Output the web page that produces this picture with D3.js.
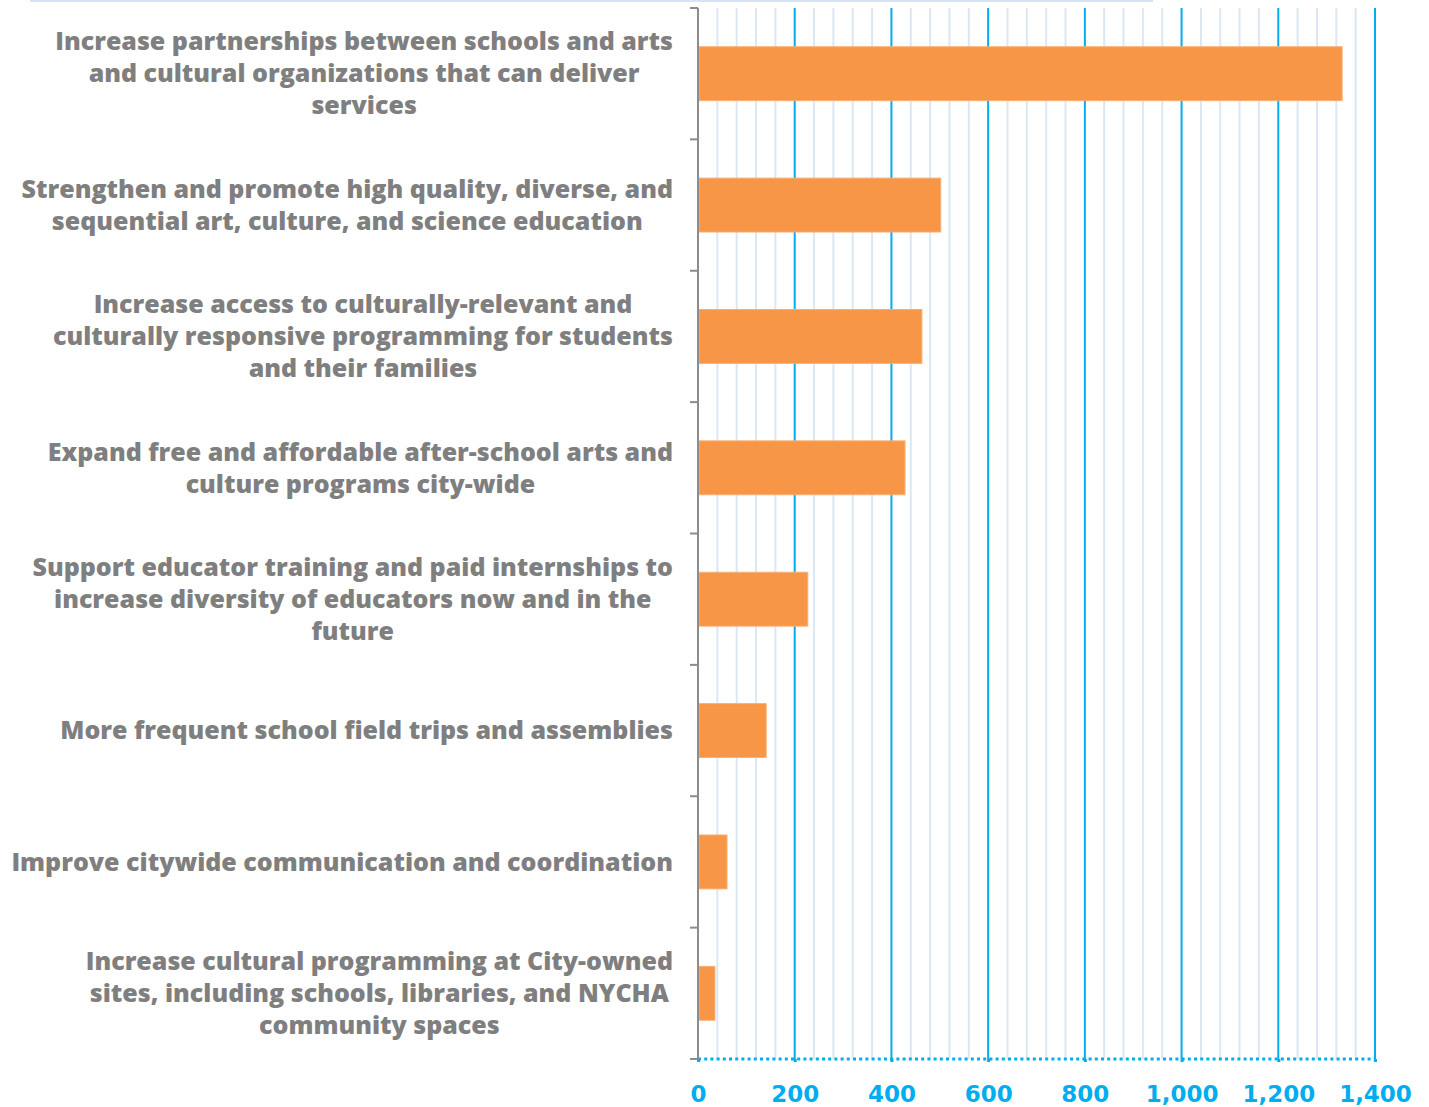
<!DOCTYPE html>
<html>
<head>
<meta charset="utf-8">
<script src="https://cdn.jsdelivr.net/npm/d3@7"></script>
<style>
  html, body { margin: 0; padding: 0; background: #fff; }
  svg { display: block; }
</style>
</head>
<body>
<div id="chart"></div>
<script>
// categories (line breaks as in the original), top to bottom
const categories = [
  ["Increase partnerships between schools and arts", "and cultural organizations that can deliver", "services"],
  ["Strengthen and promote high quality, diverse, and", "sequential art, culture, and science education"],
  ["Increase access to culturally-relevant and", "culturally responsive programming for students", "and their families"],
  ["Expand free and affordable after-school arts and", "culture programs city-wide"],
  ["Support educator training and paid internships to", "increase diversity of educators now and in the", "future"],
  ["More frequent school field trips and assemblies"],
  ["Improve citywide communication and coordination"],
  ["Increase cultural programming at City-owned", "sites, including schools, libraries, and NYCHA", "community spaces"]
];
const values = [1332, 502, 463, 428, 227, 141, 60, 35];
const xTicks = [0, 200, 400, 600, 800, 1000, 1200, 1400];
const xMinorTicks = d3.range(0, 1401, 40);

const W = 1429, H = 1107;
const margin = { top: 8, right: 54, bottom: 48, left: 698 };
const plotW = W - margin.left - margin.right,
  plotH = H - margin.top - margin.bottom;

const svg = d3.select("#chart")
  .append("svg")
  .attr("width", W)
  .attr("height", H);

// faint rule along the top edge
svg.append("line")
  .attr("x1", 30).attr("x2", 1153)
  .attr("y1", 1).attr("y2", 1)
  .style("stroke", "#d6e4f5")
  .style("stroke-width", 2);

const g = svg.append("g")
  .attr("transform", "translate(" + margin.left + "," + margin.top + ")");

const ids = categories.map((d, i) => i);

const x = d3.scaleLinear().domain([0, 1400]).range([0, plotW]);
const y = d3.scaleBand().domain(ids).range([0, plotH])
  .paddingInner(0.59).paddingOuter(0.295);
const yBand = d3.scaleBand().domain(ids).range([0, plotH]);

// minor grid
g.append("g")
  .selectAll("line")
  .data(xMinorTicks.filter(d => d % 200 !== 0))
  .join("line")
  .attr("x1", d => x(d)).attr("x2", d => x(d))
  .attr("y1", 0).attr("y2", plotH)
  .style("stroke", "#dce7f4")
  .style("stroke-width", 2);

// major grid
g.append("g")
  .selectAll("line")
  .data(xTicks.filter(d => d > 0))
  .join("line")
  .attr("x1", d => x(d)).attr("x2", d => x(d))
  .attr("y1", 0).attr("y2", plotH)
  .style("stroke", "#00aeef")
  .style("stroke-width", 2);

// bars
g.append("g")
  .selectAll("rect")
  .data(values)
  .join("rect")
  .attr("x", x(0) + 1)
  .attr("y", (d, i) => y(i))
  .attr("width", d => x(d) - x(0) - 1)
  .attr("height", y.bandwidth())
  .style("fill", "#f79646")
  .style("stroke", "#f9ad72")
  .style("stroke-width", 1);

// bottom axis: dotted blue line, labels
const xAxis = g.append("g")
  .attr("transform", "translate(0," + plotH + ")")
  .call(d3.axisBottom(x).tickValues(xTicks).tickSize(6).tickFormat(d3.format(",")));
xAxis.select(".domain")
  .style("stroke", "#00aeef")
  .style("stroke-width", 3)
  .style("stroke-dasharray", "3,3.2")
  .attr("d", "M0,0H" + plotW);
xAxis.selectAll(".tick line")
  .style("stroke", "#00aeef")
  .style("stroke-width", 3)
  .style("stroke-dasharray", "3,3");
xAxis.selectAll(".tick text")
  .attr("y", 27)
  .attr("dy", "0.71em")
  .style("fill", "#00aeef")
  .style("font-family", "'DejaVu Sans', sans-serif")
  .style("font-weight", "bold")
  .style("font-size", "23px");

// left axis: grey line with ticks at band boundaries
const yAxis = g.append("g");
yAxis.append("line")
  .attr("x1", 0).attr("x2", 0)
  .attr("y1", 0).attr("y2", plotH)
  .style("stroke", "#8c8c8c")
  .style("stroke-width", 2);
yAxis.selectAll(".ytick")
  .data(ids.concat([ids.length]))
  .join("line")
  .attr("class", "ytick")
  .attr("x1", -8).attr("x2", 0)
  .attr("y1", d => d < ids.length ? yBand(d) : plotH)
  .attr("y2", d => d < ids.length ? yBand(d) : plotH)
  .style("stroke", "#8c8c8c")
  .style("stroke-width", 2);

// category labels: block right-aligned at 673, lines centred inside
const lineH = 32;
const labelRight = 673 - margin.left;
const labels = g.append("g")
  .selectAll("g")
  .data(categories)
  .join("g");

labels.each(function (lines, i) {
  const cy = y(i) + y.bandwidth() / 2;
  const grp = d3.select(this);
  const texts = grp.selectAll("text")
    .data(lines)
    .join("text")
    .attr("y", (d, j) => cy + (j - (lines.length - 1) / 2) * lineH)
    .attr("dy", "0.35em")
    .attr("text-anchor", "middle")
    .style("fill", "#7f7f7f")
    .style("font-family", "'Open Sans', sans-serif")
    .style("font-weight", "800")
    .style("font-size", "25px")
    .text(d => d);
  let maxW = 0;
  texts.each(function () { maxW = Math.max(maxW, this.getComputedTextLength()); });
  texts.attr("x", labelRight - maxW / 2);
});
</script>
</body>
</html>
